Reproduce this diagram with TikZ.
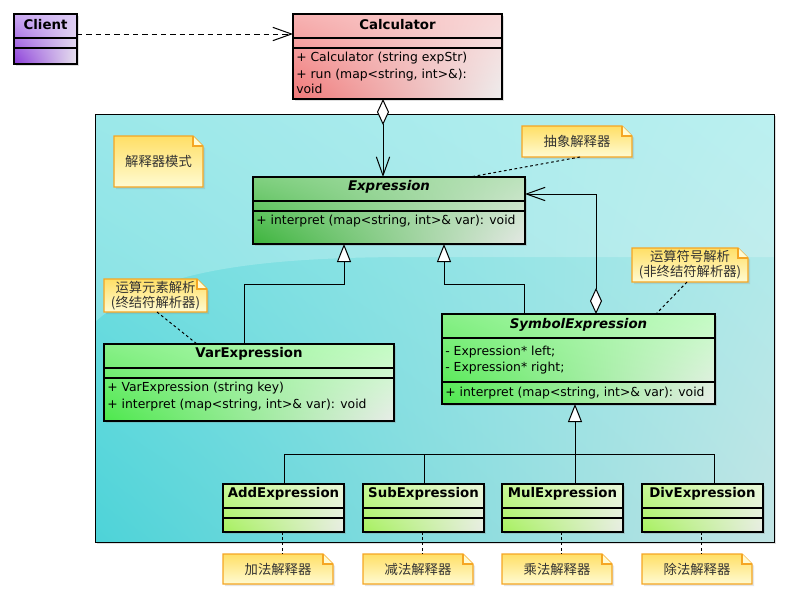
\documentclass[tikz,border=0pt]{standalone}
\usepackage{fontspec}
\setmainfont{DejaVu Sans}
\newfontfamily\cjk{Noto Sans CJK SC}
\usetikzlibrary{arrows.meta, calc, fit, shadows, shadings}

\definecolor{clientUL}{HTML}{CBAAF2}
\definecolor{clientUR}{HTML}{DDCBF5}
\definecolor{clientLL}{HTML}{8A3CD8}
\definecolor{clientLR}{HTML}{E8E4EC}
\definecolor{calcUL}{HTML}{F7B2B2}
\definecolor{calcUR}{HTML}{F8D8D8}
\definecolor{calcLL}{HTML}{F07878}
\definecolor{calcLR}{HTML}{EDEDED}
\definecolor{exprUL}{HTML}{80D080}
\definecolor{exprUR}{HTML}{BCE2BC}
\definecolor{exprLL}{HTML}{3CB43C}
\definecolor{exprLR}{HTML}{E4E8E4}
\definecolor{termUL}{HTML}{88F088}
\definecolor{termUR}{HTML}{C4FCC4}
\definecolor{termLL}{HTML}{4CE84C}
\definecolor{termLR}{HTML}{E8ECE8}
\definecolor{leafUL}{HTML}{C8F898}
\definecolor{leafUR}{HTML}{E8F8D8}
\definecolor{leafLL}{HTML}{A6F05E}
\definecolor{leafLR}{HTML}{E8ECE4}
\definecolor{pkgUL}{HTML}{80E2E4}
\definecolor{pkgUR}{HTML}{A8ECEC}
\definecolor{pkgLL}{HTML}{4DD3D8}
\definecolor{pkgLR}{HTML}{C2E4E4}
\definecolor{noteTop}{HTML}{FFDF66}
\definecolor{noteBot}{HTML}{FFFBD2}
\definecolor{noteLine}{HTML}{F5A623}

% two compartment lines, offsets in px from the top edge
\newcommand{\classlines}[3]{%
  \draw[line width=0.8pt] ($(#1.north west)+(0,#2)$) -- ($(#1.north east)+(0,#2)$);
  \draw[line width=0.8pt] ($(#1.north west)+(0,#3)$) -- ($(#1.north east)+(0,#3)$);
}

% note with folded corner
\newcommand{\umlnote}[6]{%
  \node[notearea, fit={(#2,#3) (#4,#5)}] (#1) {};
  \shade[notefill] (#1.south west) -- (#1.north west) -- ($(#1.north east)+(-10,0)$)
    -- ($(#1.north east)+(0,10)$) -- (#1.south east) -- cycle;
  \filldraw[notefold] ($(#1.north east)+(-10,0)$) -- ++(0,10) -- ++(10,0);
  \node[notetext] (#1-text) at (#1.center) {#6};
}

\begin{document}
\begin{tikzpicture}[x=0.75pt, y=-0.75pt,
    box/.style={draw=black, line width=0.8pt, inner sep=0pt, outer sep=0pt,
                drop shadow={shadow xshift=1.5pt, shadow yshift=-1.5pt, opacity=0.25}},
    clientfill/.style={upper left=clientUL, upper right=clientUR, lower left=clientLL, lower right=clientLR},
    calcfill/.style={upper left=calcUL, upper right=calcUR, lower left=calcLL, lower right=calcLR},
    exprfill/.style={upper left=exprUL, upper right=exprUR, lower left=exprLL, lower right=exprLR},
    termfill/.style={upper left=termUL, upper right=termUR, lower left=termLL, lower right=termLR},
    leaffill/.style={upper left=leafUL, upper right=leafUR, lower left=leafLL, lower right=leafLR},
    cname/.style={font=\fontsize{10}{12}\selectfont\bfseries, inner sep=0pt},
    cnameit/.style={font=\fontsize{10}{12}\selectfont\bfseries\itshape, inner sep=0pt},
    cmember/.style={font=\fontsize{9.3}{11}\selectfont, anchor=west, inner sep=0pt},
    notearea/.style={inner sep=0pt, outer sep=0pt},
    notefill/.style={top color=noteTop, bottom color=noteBot, draw=noteLine, line width=0.9pt,
                     drop shadow={shadow xshift=1.5pt, shadow yshift=-1.5pt, opacity=0.2}},
    notefold/.style={fill=noteBot, draw=noteLine, line width=0.9pt},
    notetext/.style={font=\cjk\fontsize{10}{11.4}\selectfont, text=black!80, align=center, inner sep=0pt},
    link/.style={line width=0.75pt},
    generalize/.style={link, -{Triangle[fill=white, length=13.5pt, width=10.5pt]}},
    aggr/.style={link, {Diamond[fill=white, length=19.5pt, width=9pt]}-{Straight Barb[length=14pt, width=10pt]}},
    dep/.style={link, dash pattern=on 4pt off 3pt, -{Straight Barb[length=14pt, width=10pt]}},
    anchorline/.style={line width=0.75pt, dash pattern=on 2pt off 2pt}
  ]
  \useasboundingbox (0,0) rectangle (789,600);

  % package area
  \node[box, line width=0.75pt, upper left=pkgUL, upper right=pkgUR, lower left=pkgLL, lower right=pkgLR,
        fit={(95,114) (774,542)}] (pkg) {};
  \fill[white, opacity=0.22] (95,114) -- (774,114) -- (774,257) -- (400,257)
    .. controls (250,258) and (150,272) .. (95,322) -- cycle;
  \draw[line width=0.75pt] (pkg.north west) rectangle (pkg.south east);

  % client
  \node[box, clientfill, fit={(14,14) (77,64)}] (client) {};
  \classlines{client}{24}{34}
  \node[cname] (client-name) at (45.5,25) {Client};

  % calculator
  \node[box, calcfill, fit={(293,14) (502,99)}] (calculator) {};
  \classlines{calculator}{24}{34}
  \node[cname] (calculator-name) at (397.5,25) {Calculator};
  \node[cmember] (calculator-op1) at (296,58) {+ Calculator (string expStr)};
  \node[cmember] (calculator-op2) at (296,75) {+ run (map<string, int>\&):};
  \node[cmember] (calculator-op3) at (296,89) {void};

  % abstract expression
  \node[box, exprfill, fit={(253,177) (525,244)}] (expr) {};
  \classlines{expr}{24}{34}
  \node[cnameit] (expr-name) at (389,187) {Expression};
  \node[cmember] (expr-op1) at (256,221) {+ interpret (map<string, int>\& var): void};

  % terminal expression
  \node[box, termfill, fit={(104,344) (394,421)}] (var) {};
  \classlines{var}{24}{34}
  \node[cname] (var-name) at (249,354) {VarExpression};
  \node[cmember] (var-op1) at (107,388) {+ VarExpression (string key)};
  \node[cmember] (var-op2) at (107,405) {+ interpret (map<string, int>\& var): void};

  % nonterminal expression
  \node[box, termfill, fit={(442,314) (715,404)}] (sym) {};
  \classlines{sym}{24}{68}
  \node[cnameit] (sym-name) at (578.5,325) {SymbolExpression};
  \node[cmember] (sym-attr1) at (445,352) {- Expression* left;};
  \node[cmember] (sym-attr2) at (445,368) {- Expression* right;};
  \node[cmember] (sym-op1) at (445,393) {+ interpret (map<string, int>\& var): void};

  % operator classes
  \foreach \n/\x/\t in {add/223/AddExpression, sub/363/SubExpression,
                        mul/502/MulExpression, div/642/DivExpression} {
    \node[box, leaffill, fit={(\x,484) (\x+121,532)}] (\n) {};
    \classlines{\n}{24}{34}
    \node[cname] (\n-name) at (\x+60.5,494) {\t};
  }

  % notes
  \umlnote{modenote}{114}{136}{203}{187}{解释器模式}
  \umlnote{absnote}{522}{126}{632}{157}{抽象解释器}
  \umlnote{termnote}{104}{279}{207}{312}{运算元素解析\\(终结符解析器)}
  \umlnote{symnote}{632}{248}{748}{282}{运算符号解析\\(非终结符解析器)}
  \foreach \n/\x/\t in {add/223/加法解释器, sub/363/减法解释器,
                        mul/502/乘法解释器, div/642/除法解释器} {
    \umlnote{\n note}{\x}{554}{\x+110}{584}{\t}
    \draw[anchorline] ($(\n.south west)+(59,0)$) -- ($(\n note.north west)+(59,0)$);
  }

  % note anchors
  \draw[anchorline] ($(absnote.south west)+(58,0)$) -- ($(expr.north west)+(217,0)$);
  \draw[anchorline] ($(symnote.south west)+(55,0)$) -- ($(sym.north west)+(214,0)$);
  \draw[anchorline] ($(termnote.south west)+(53,0)$) -- ($(var.north west)+(93,0)$);

  % client uses calculator
  \draw[dep] ($(client.north east)+(0,20)$) -- ($(calculator.north west)+(0,20)$);

  % calculator holds expression
  \draw[aggr] ($(calculator.south west)+(90,0)$) -- ($(expr.north west)+(130,0)$);

  % inheritance from expression
  \draw[generalize] ($(var.north west)+(140,0)$) -- ++(0,-60) -| ($(expr.south west)+(91,0)$);
  \draw[generalize] ($(sym.north west)+(82,0)$) -- ++(0,-30) -| ($(expr.south west)+(191,0)$);

  % symbol expression holds left/right
  \draw[aggr] ($(sym.north west)+(154,0)$) |- ($(expr.north east)+(0,17)$);

  % inheritance from symbol expression
  \coordinate (junction) at ($(sym.south west)+(133,50)$);
  \draw[generalize] ($(mul.north west)+(73,0)$) -- ($(sym.south west)+(133,0)$);
  \foreach \n/\dx in {add/61, sub/61, div/72}
    \draw[link] ($(\n.north west)+(\dx,0)$) |- (junction);
\end{tikzpicture}
\end{document}
